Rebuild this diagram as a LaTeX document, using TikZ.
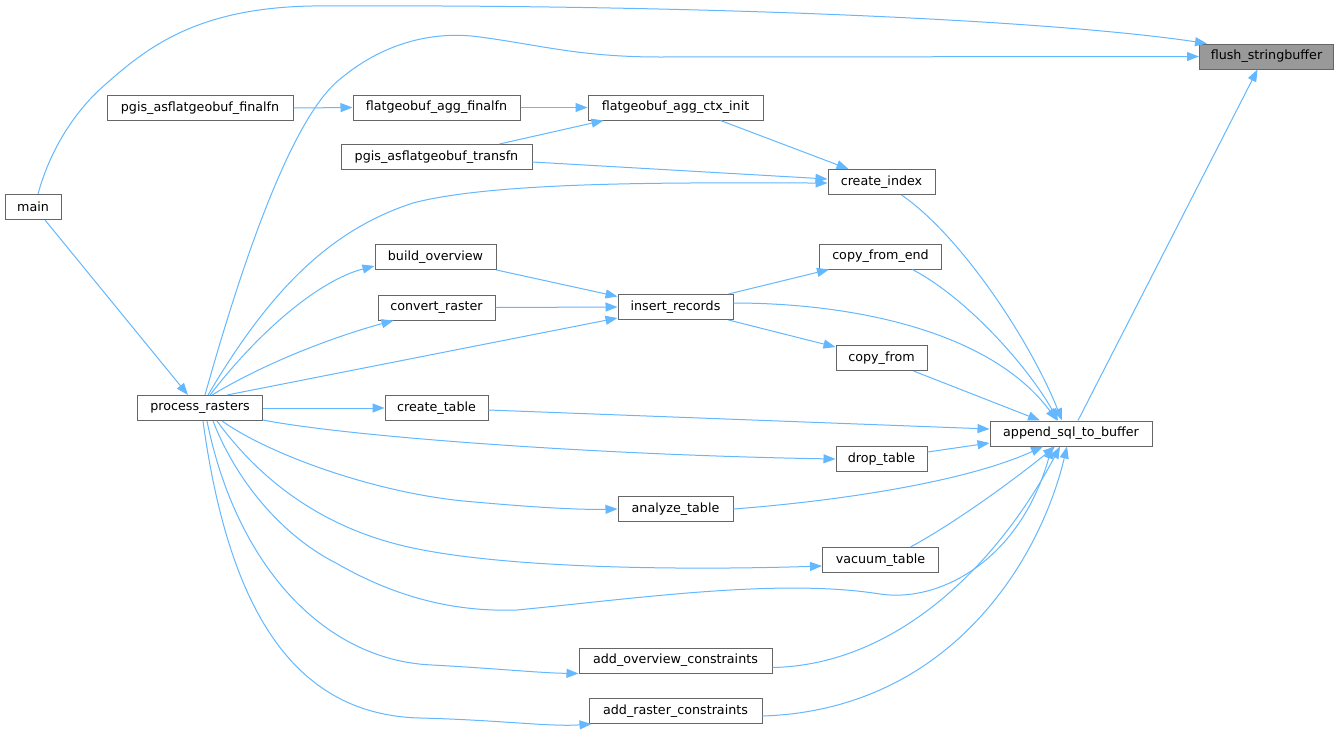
\documentclass[tikz,border=0pt]{standalone}
\usepackage{fontspec}
\setmainfont{DejaVu Sans}
\usetikzlibrary{arrows.meta}
\definecolor{edgeblue}{HTML}{63B8FF}
\definecolor{boxgray}{HTML}{666666}
\definecolor{curfill}{HTML}{999999}
\begin{document}
\begin{tikzpicture}[x=1pt,y=-1pt,
  fn/.style={draw=boxgray,line width=1pt,fill=white,inner sep=0pt,minimum height=25pt,
    font=\fontsize{12.7}{15}\selectfont,text=black},
  cur/.style={fn,fill=curfill},
  call/.style={draw=edgeblue,line width=1pt,-{Triangle[length=12pt,width=9pt]},color=edgeblue}]
\useasboundingbox[fill=white] (0,0) rectangle (1340,734);
% nodes
\node[cur,minimum width=134pt] (flush) at (1266.5,56.5) {flush\_stringbuffer};
\node[fn,minimum width=186pt] (pgfin) at (200,108) {pgis\_asflatgeobuf\_finalfn};
\node[fn,minimum width=167pt] (aggfin) at (436.5,107.5) {flatgeobuf\_agg\_finalfn};
\node[fn,minimum width=175pt] (ctx) at (675.5,107.5) {flatgeobuf\_agg\_ctx\_init};
\node[fn,minimum width=191pt] (transfn) at (436.5,157) {pgis\_asflatgeobuf\_transfn};
\node[fn,minimum width=107pt] (cidx) at (881.5,182) {create\_index};
\node[fn,minimum width=56pt] (main) at (33,207) {main};
\node[fn,minimum width=121pt] (bov) at (435.5,257) {build\_overview};
\node[fn,minimum width=122pt] (cfe) at (880.5,256.5) {copy\_from\_end};
\node[fn,minimum width=117pt] (cr) at (436.5,307.5) {convert\_raster};
\node[fn,minimum width=115pt] (ir) at (675.5,307) {insert\_records};
\node[fn,minimum width=91pt] (cf) at (881.5,358) {copy\_from};
\node[fn,minimum width=125pt] (pr) at (200,408) {process\_rasters};
\node[fn,minimum width=103pt] (ct) at (436.5,408) {create\_table};
\node[fn,minimum width=162pt] (app) at (1071,433.5) {append\_sql\_to\_buffer};
\node[fn,minimum width=91pt] (dt) at (881.5,459) {drop\_table};
\node[fn,minimum width=115pt] (at) at (675.5,509) {analyze\_table};
\node[fn,minimum width=116pt] (vt) at (880.5,560) {vacuum\_table};
\node[fn,minimum width=193pt] (aoc) at (675.5,660.5) {add\_overview\_constraints};
\node[fn,minimum width=173pt] (arc) at (675.5,711) {add\_raster\_constraints};
% edges
\draw[call] ([xshift=5pt]main.north) .. controls (50,150) and (75,110) .. (107,83)
  .. controls (150,45) and (200,8) .. (312,6) .. controls (700,4) and (1050,20) .. ([xshift=8pt]flush.north west);
\draw[call] ([xshift=5pt]pr.north) .. controls (240,270) and (290,120) .. (339,80)
  .. controls (380,45) and (430,30) .. (480,37) .. controls (540,45) and (580,57) .. (660,57) -- (flush.west);
\draw[call] ([xshift=7pt]app.north) -- ([xshift=-9pt]flush.south);
\draw[call] (pgfin.east) -- (aggfin.west);
\draw[call] (aggfin.east) -- (ctx.west);
\draw[call] ([xshift=63pt]transfn.north) -- ([xshift=-72pt]ctx.south);
\draw[call] ([xshift=45pt]ctx.south) -- ([xshift=-33pt]cidx.north);
\draw[call] ([yshift=-5pt]transfn.east) -- ([yshift=3pt]cidx.west);
\draw[call] ([xshift=8pt]pr.north) .. controls (270,290) and (330,230) .. (413,203)
  .. controls (500,180) and (700,183) .. ([yshift=-1pt]cidx.west);
\draw[call] ([xshift=20pt]cidx.south) .. controls (960,235) and (1030,340) .. ([xshift=-9pt]app.north);
\draw[call] ([xshift=10pt]pr.north) .. controls (260,330) and (320,280) .. ([yshift=-9pt]bov.west);
\draw[call] ([xshift=12pt]pr.north) .. controls (270,360) and (340,335) .. ([xshift=-43pt]cr.south);
\draw[call] ([xshift=27pt]pr.north) -- ([yshift=2pt]ir.south west);
\draw[call] (bov.south east) -- ([yshift=-2.5pt]ir.north west);
\draw[call] (cr.east) -- (ir.west);
\draw[call] ([xshift=-5pt]ir.north east) -- ([xshift=10pt]cfe.south west);
\draw[call] ([xshift=-5pt]ir.south east) -- ([yshift=-2pt]cf.north west);
\draw[call] ([yshift=4pt]ir.east) .. controls (850,303) and (990,330) .. ([xshift=-14pt]app.north);
\draw[call] ([xshift=32pt]cfe.south) .. controls (970,300) and (1030,370) .. ([xshift=-13pt]app.north);
\draw[call] ([xshift=32pt]cf.south) -- ([xshift=-31pt]app.north);
\draw[call] (pr.east) -- (ct.west);
\draw[call] ([yshift=-2pt]ct.east) -- ([yshift=4.5pt]app.west);
\draw[call] ([yshift=-12pt]pr.east) .. controls (350,437) and (600,455) .. (dt.west);
\draw[call] ([yshift=7pt]dt.east) -- ([yshift=-9.5pt]app.west);
\draw[call] ([xshift=22pt]pr.south) .. controls (270,455) and (380,495) .. (475,502)
  .. controls (530,507) and (580,510) .. (at.west);
\draw[call] (at.east) .. controls (850,500) and (970,480) .. ([xshift=-28pt]app.south);
\draw[call] ([xshift=17pt]pr.south) .. controls (260,480) and (320,525) .. (400,545)
  .. controls (500,570) and (700,570) .. ([yshift=-6pt]vt.west);
\draw[call] ([xshift=30pt]vt.north) .. controls (960,520) and (1020,475) .. ([xshift=-16pt]app.south);
\draw[call] ([xshift=13pt]pr.south) .. controls (240,490) and (290,540) .. (336,563)
  .. controls (400,600) and (460,612) .. (517,610)
  .. controls (640,598) and (780,578) .. (880,594)
  .. controls (940,603) and (1020,560) .. ([xshift=-19pt]app.south);
\draw[call] ([xshift=7pt]pr.south) .. controls (235,560) and (320,660) .. (432,665)
  .. controls (490,668) and (540,673) .. (aoc.south west);
\draw[call] ([yshift=-7pt]aoc.east) .. controls (900,665) and (1000,560) .. ([xshift=-11pt]app.south);
\draw[call] ([xshift=3pt]pr.south) .. controls (230,620) and (300,715) .. (420,718)
  .. controls (500,720) and (550,727) .. ([xshift=3pt]arc.south west);
\draw[call] ([yshift=-5pt]arc.east) .. controls (950,710) and (1040,560) .. ([xshift=-4pt]app.south);
\draw[call] ([xshift=12pt]main.south) -- ([xshift=-12pt]pr.north);
\end{tikzpicture}
\end{document}
